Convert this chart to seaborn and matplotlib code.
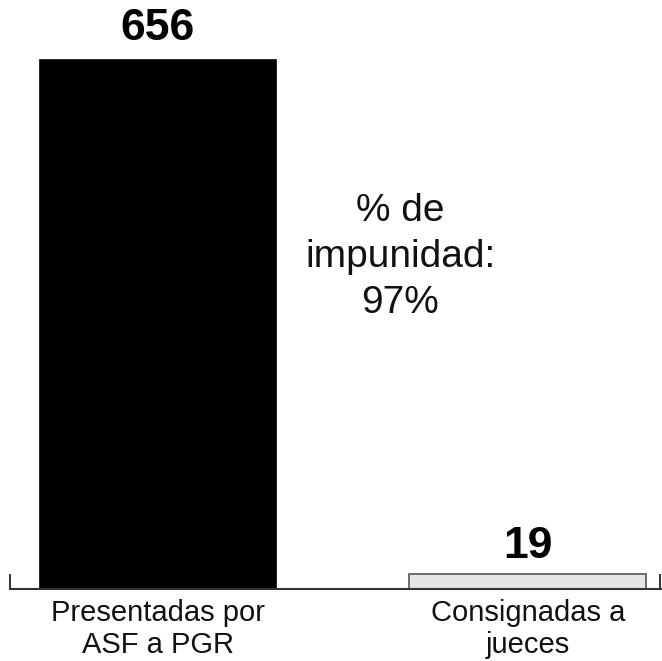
import matplotlib
matplotlib.use("Agg")
import matplotlib.pyplot as plt
import seaborn as sns
import pandas as pd

categories = ["Presentadas por\nASF a PGR", "Consignadas a\njueces"]
values = [656, 19]
value_labels = ["656", "19"]
note_text = "% de\nimpunidad:\n97%"

sns.set_theme(style="white")
plt.rcParams['font.family'] = ['Liberation Sans', 'DejaVu Sans']

df = pd.DataFrame({"cat": categories, "val": values})

fig = plt.figure(figsize=(6.62, 6.61), dpi=100)
W, H = 662, 661
ax = fig.add_axes([10 / W, (H - 589) / H, 651 / W, 589 / H])

sns.barplot(data=df, x="cat", y="val", ax=ax, width=0.64,
            palette=["#000000", "#e6e6e6"], hue="cat", legend=False,
            saturation=1)
for patch, ec in zip(ax.patches, ["#000000", "#555555"]):
    patch.set_edgecolor(ec)
    patch.set_linewidth(1.2)

ax.set_xlim(-0.40, 1.36)
ax.set_ylim(0, 656 * 589 / 529)

for s in ["top", "right", "left"]:
    ax.spines[s].set_visible(False)
ax.spines["bottom"].set_color("#333333")
ax.spines["bottom"].set_linewidth(1.5)

ax.set_yticks([])
ax.set_xlabel("")
ax.set_ylabel("")
ax.set_xticks([0, 1], categories)
ax.set_xticks([-0.40, 1.358], minor=True)
ax.tick_params(axis="x", which="major", bottom=False, length=0, pad=7,
               labelsize=21, labelcolor="#111111")
ax.tick_params(axis="x", which="minor", bottom=True, direction="in",
               length=11, width=1.4, color="#333333")
for lbl in ax.get_xticklabels():
    lbl.set_linespacing(1.2)

offsets = [8, 4.5]
for i, (v, t) in enumerate(zip(values, value_labels)):
    ax.annotate(t, (i, v), xytext=(0, offsets[i]), textcoords="offset points",
                ha="center", va="bottom", fontsize=32, fontweight="bold",
                color="#000000")

ax.text(0.655, 412, note_text, ha="center", va="center", fontsize=28,
        linespacing=1.36, color="#111111")

fig.savefig("out.png", dpi=100)
